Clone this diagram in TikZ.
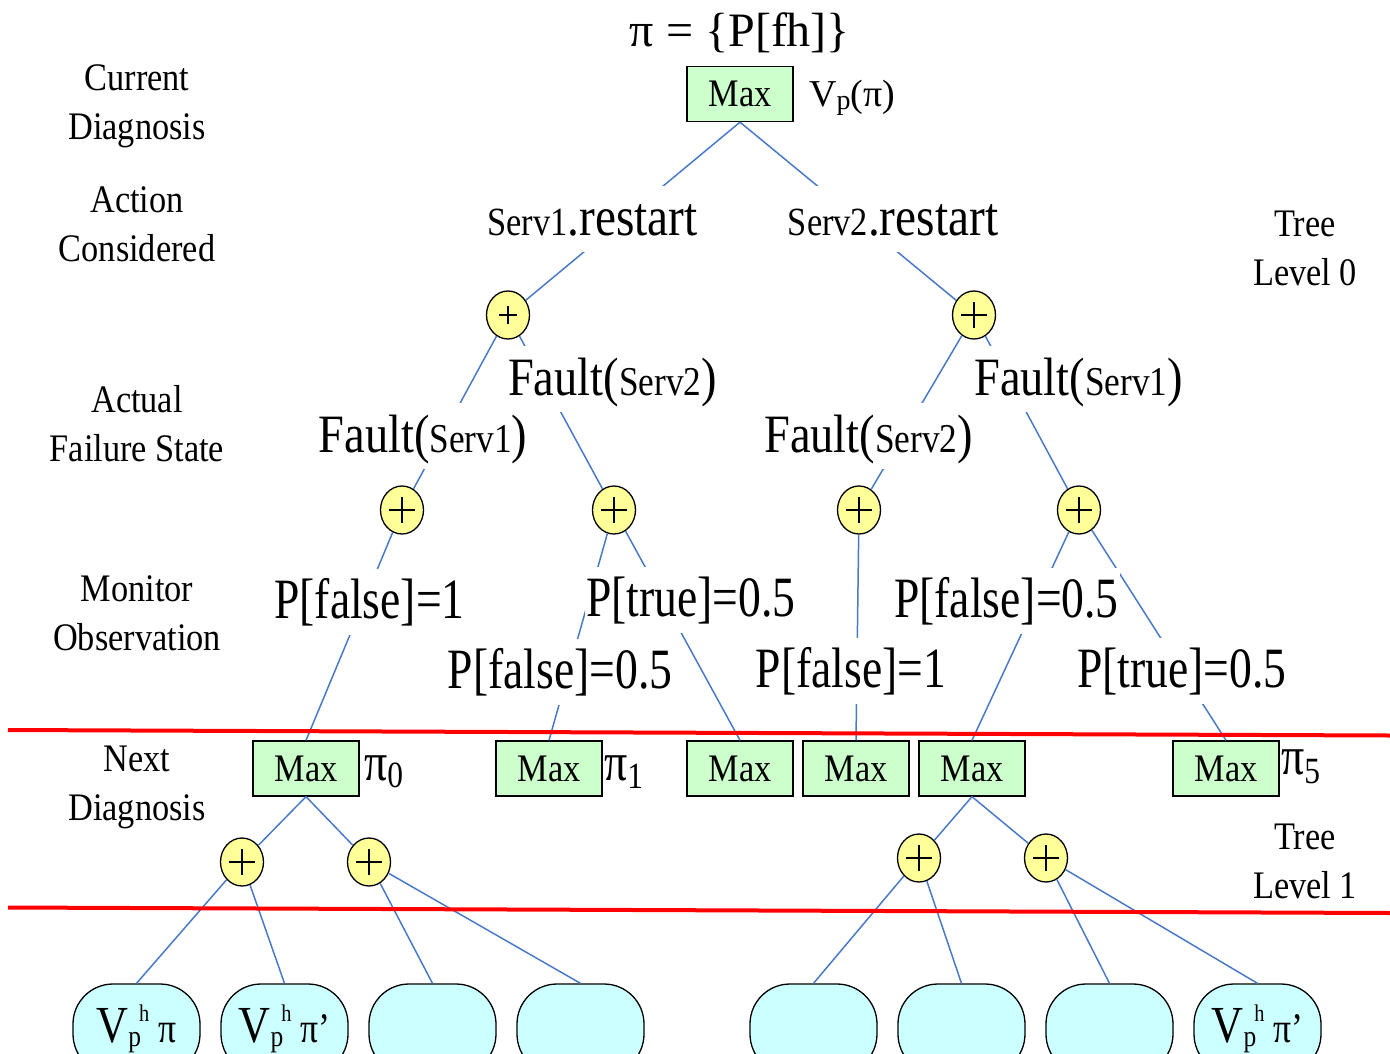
\documentclass[tikz,border=0pt]{standalone}
\usepackage{fontspec}
\usepackage{graphicx}
\setmainfont{Liberation Serif}
\newfontfamily\labfont{Liberation Serif}[FakeStretch=0.88]
\newfontfamily\probfont{Liberation Serif}[FakeStretch=0.80]
\newfontfamily\faultfont{Liberation Serif}[FakeStretch=0.86]
\newfontfamily\pifont{Liberation Serif}[FakeStretch=0.85]
\usetikzlibrary{shapes.geometric}

\newcommand\fs[1]{\fontsize{#1}{#1}\selectfont}
% V_p^h value symbol used in the leaves
\newcommand\vph{{\fs{52}V}\raisebox{-4pt}{\fs{30}p}\hspace{-2pt}\raisebox{21pt}{\fs{24}h}\hspace{9pt}\fs{42}}

\definecolor{maxgreen}{RGB}{204,255,204}
\definecolor{plusyellow}{RGB}{255,255,153}
\definecolor{leafcyan}{RGB}{204,255,255}
\definecolor{linkblue}{RGB}{74,122,198}

\begin{document}
\begin{tikzpicture}[x=1pt, y=-1pt,
  maxbox/.style={draw=black, line width=1.3pt, fill=maxgreen, minimum width=106pt,
    minimum height=55pt, inner sep=0pt, font=\labfont\fs{39}},
  oplus/.style={ellipse, draw=black, line width=1.3pt, fill=plusyellow,
    minimum width=43pt, minimum height=48pt, inner sep=0pt,
    path picture={\draw[black, line width=1.8pt]
      ([xshift=-#1]path picture bounding box.center) -- ([xshift=#1]path picture bounding box.center)
      ([yshift=-#1]path picture bounding box.center) -- ([yshift=#1]path picture bounding box.center);}},
  oplus/.default=13pt,
  leaf/.style={draw=black, line width=1.3pt, fill=leafcyan, rounded corners=40pt,
    minimum width=127pt, minimum height=90pt, inner sep=0pt, font=\pifont},
  link/.style={draw=linkblue, line width=1.5pt},
  lab/.style={fill=white, inner xsep=1pt, inner ysep=0pt, anchor=base,
    text height=49pt, text depth=17pt},
  side/.style={align=center, font=\labfont\fontsize{39}{49}\selectfont, anchor=base},
  pilab/.style={anchor=base west, inner sep=0pt, font=\pifont},
  sepline/.style={draw=red, line width=4pt}]

\useasboundingbox (0,0) rectangle (1390,1053);
\clip (0,0) rectangle (1390,1053);
\fill[white] (0,0) rectangle (1390,1053);

% root of tree level 0
\node[anchor=base, font=\fs{48}] (title) at (740,46) {π = \{P[fh]\}};
\node[maxbox] (m) at (740,94) {Max};
\node[anchor=base west, inner sep=0pt, font=\fs{38}] (vp) at (809,106) {V\raisebox{-3pt}{\fs{28}p}(π)};

% chance nodes
\node[oplus=9pt] (p1) at (508,315) {};
\node[oplus] (p2) at (974,315) {};
\node[oplus] (p3) at (402,510) {};
\node[oplus] (p4) at (614,510) {};
\node[oplus] (p5) at (859,510) {};
\node[oplus] (p6) at (1079,510) {};

% next diagnosis max nodes
\node[maxbox] (m0) at (306,768.5) {Max};
\node[maxbox] (m1) at (549,768.5) {Max};
\node[maxbox] (m2) at (740,768.5) {Max};
\node[maxbox] (m3) at (856,768.5) {Max};
\node[maxbox] (m4) at (972,768.5) {Max};
\node[maxbox] (m5) at (1226,768.5) {Max};
\node[pilab] (pi0) at (364,780) {\fs{54}π\raisebox{-7pt}{\fs{37}0}};
\node[pilab] (pi1) at (604,780) {\fs{54}π\raisebox{-8pt}{\fs{37}1}};
\node[pilab] (pi5) at (1281,774) {\fs{54}π\raisebox{-9pt}{\fs{37}5}};

% tree level 1
\node[oplus] (p7) at (242,862) {};
\node[oplus] (p8) at (369,862) {};
\node[oplus] (p9) at (919,858) {};
\node[oplus] (p10) at (1046,858) {};

\node[leaf] (l1) at (136.5,1029) {\vph π\hspace{12pt}};
\node[leaf] (l2) at (284.5,1029) {\vph π’\hspace{16pt}};
\node[leaf] (l3) at (432.5,1029) {};
\node[leaf] (l4) at (580.5,1029) {};
\node[leaf] (l5) at (813.5,1029) {};
\node[leaf] (l6) at (961.5,1029) {};
\node[leaf] (l7) at (1109.5,1029) {};
\node[leaf] (l8) at (1257.5,1029) {\vph π’\hspace{12pt}};

% connectors
\draw[link] (m.south) -- (p1);
\draw[link] (m.south) -- (p2);
\draw[link] (p1) -- (p3);
\draw[link] (p1) -- (p4);
\draw[link] (p2) -- (p5);
\draw[link] (p2) -- (p6);
\draw[link] (p3) -- (m0.north);
\draw[link] (p4) -- (m1.north);
\draw[link] (p4) -- (m2.north);
\draw[link] (p5) -- (m3.north);
\draw[link] (p6) -- (m4.north);
\draw[link] (p6) -- (m5.north);
\draw[link] (m0.south) -- (p7);
\draw[link] (m0.south) -- (p8);
\draw[link] (m4.south) -- (p9);
\draw[link] (m4.south) -- (p10);
\draw[link] (p7) -- (l1.north);
\draw[link] (p7) -- (l2.north);
\draw[link] (p8) -- (l3.north);
\draw[link] (p8) -- (l4.north);
\draw[link] (p9) -- (l5.north);
\draw[link] (p9) -- (l6.north);
\draw[link] (p10) -- (l7.north);
\draw[link] (p10) -- (l8.north);

% branch labels sitting on the connectors
\node[lab, font=\faultfont] (a1) at (592.5,235) {{\fs{40}Serv1}{\fs{55}.restart}};
\node[lab, font=\faultfont] (a2) at (893,235) {{\fs{40}Serv2}{\fs{55}.restart}};
\node[lab, font=\faultfont] (f2) at (612.5,395) {{\fs{54}Fault(}{\fs{41}Serv2}{\fs{54})}};
\node[lab, font=\faultfont] (f1) at (423,452) {{\fs{54}Fault(}{\fs{41}Serv1}{\fs{54})}};
\node[lab, font=\faultfont] (f4) at (1078.5,395) {{\fs{54}Fault(}{\fs{41}Serv1}{\fs{54})}};
\node[lab, font=\faultfont] (f3) at (868.5,452) {{\fs{54}Fault(}{\fs{41}Serv2}{\fs{54})}};
\node[lab, font=\probfont\fs{57}] (o1) at (369.5,618) {P[false]=1};
\node[lab, font=\probfont\fs{57}] (o2) at (691,616) {P[true]=0.5};
\node[lab, font=\probfont\fs{57}] (o3) at (560,688) {P[false]=0.5};
\node[lab, font=\probfont\fs{57}] (o4) at (851,687) {P[false]=1};
\node[lab, font=\probfont\fs{57}] (o5) at (1006.5,617) {P[false]=0.5};
\node[lab, font=\probfont\fs{57}] (o6) at (1182,687) {P[true]=0.5};

% row captions
\node[side] (cur) at (137,139) {Current\\Diagnosis};
\node[side] (act) at (137,261) {Action\\Considered};
\node[side] (fail) at (137,461) {Actual\\Failure State};
\node[side] (mon) at (137,650) {Monitor\\Observation};
\node[side] (nxt) at (137,820) {Next\\Diagnosis};
\node[side] (tl0) at (1305,285) {Tree\\Level 0};
\node[side] (tl1) at (1305,898) {Tree\\Level 1};

% tree level separators
\coordinate (r1a) at (8,730);
\coordinate (r1b) at (1390,735.5);
\coordinate (r2a) at (8,907.5);
\coordinate (r2b) at (1390,913);
\draw[sepline] (r1a) -- (r1b);
\draw[sepline] (r2a) -- (r2b);
\end{tikzpicture}
\end{document}
